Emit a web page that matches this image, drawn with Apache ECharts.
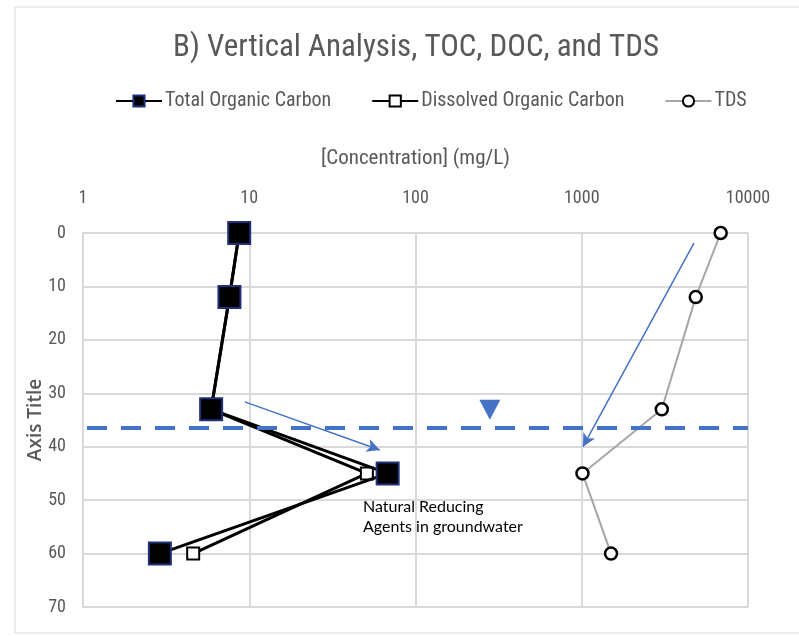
<!DOCTYPE html>
<html>
<head>
<meta charset="utf-8">
<script src="https://cdn.jsdelivr.net/npm/echarts@6/dist/echarts.min.js"></script>
<style>
html,body{margin:0;padding:0;background:#fff;}
#chart{width:799px;height:636px;}
</style>
</head>
<body>
<div id="chart"></div>
<script>
// ---- data ----
const depths = [0, 12, 33, 45, 60];
const tocValues = [8.7, 7.6, 5.9, 68, 2.9];
const docValues = [8.7, 7.6, 5.9, 51, 4.6];
const tdsValues = [6850, 4850, 3030, 1010, 1500];
const seriesNames = ['Total Organic Carbon', 'Dissolved Organic Carbon', 'TDS'];
const xTickValues = [1, 10, 100, 1000, 10000];
const yTickValues = [0, 10, 20, 30, 40, 50, 60, 70];
const waterTableDepth = 36.5;
const waterTableMarker = [280, 33.1];
const arrowToc = [[9.4, 31.6], [61, 40.6]];
const arrowTds = [[4730, 1.9], [1017, 40.0]];
const annotationText = 'Natural Reducing\nAgents in groundwater';

const FONT = "'Liberation Sans Narrow', 'Roboto Condensed', 'DejaVu Sans Condensed', sans-serif";
const GRAY = '#595959';
const BLUE = '#4472C4';

const pairs = (vals) => vals.map((v, i) => [v, depths[i]]);

const chart = echarts.init(document.getElementById('chart'), null, {renderer: 'canvas'});
const option = {
  animation: false,
  backgroundColor: '#fff',
  title: {
    text: 'B) Vertical Analysis, TOC, DOC, and TDS',
    left: 411, textAlign: 'center', top: 28,
    textStyle: {fontFamily: FONT, fontSize: 31, fontWeight: 'normal', color: GRAY}
  },
  legend: {
    data: seriesNames,
    left: 110, top: 86,
    itemWidth: 46, itemHeight: 14, itemGap: 40,
    textStyle: {fontFamily: FONT, fontSize: 20, color: GRAY, padding: [0,0,0,-2]}
  },
  grid: {left: 83, right: 51, top: 233, bottom: 29, containLabel: false},
  xAxis: {
    type: 'log', logBase: 10, min: xTickValues[0], max: xTickValues[xTickValues.length - 1],
    position: 'top',
    name: '[Concentration] (mg/L)', nameLocation: 'middle', nameGap: 64,
    nameTextStyle: {fontFamily: FONT, fontSize: 21, color: GRAY},
    axisLine: {show: false}, axisTick: {show: false},
    axisLabel: {fontFamily: FONT, fontSize: 18, color: GRAY, margin: 26, formatter: v => String(Math.round(v))},
    splitLine: {show: true, lineStyle: {color: '#d9d9d9', width: 2}}
  },
  yAxis: {
    type: 'value', inverse: true, min: yTickValues[0], max: yTickValues[yTickValues.length - 1], interval: 10,
    name: 'Axis Title', nameLocation: 'middle', nameRotate: 90, nameGap: 38, nameMoveOverlap: false,
    nameTextStyle: {fontFamily: "'Open Sans', sans-serif", fontSize: 19, fontWeight: 600, color: GRAY},
    axisLine: {show: true, lineStyle: {color: '#d9d9d9', width: 2}}, axisTick: {show: false},
    axisLabel: {fontFamily: FONT, fontSize: 18, color: GRAY, margin: 17},
    splitLine: {show: true, lineStyle: {color: '#d9d9d9', width: 2}}
  },
  series: [
    {
      name: seriesNames[0], type: 'line', z: 4, data: pairs(tocValues),
      symbol: 'rect', symbolSize: 22,
      lineStyle: {color: '#000', width: 3},
      itemStyle: {color: '#000', borderColor: '#22307a', borderWidth: 2},
      markLine: {
        silent: true, symbol: ['none', 'arrow'], symbolSize: [10, 13],
        lineStyle: {color: BLUE, width: 1.5, type: 'solid'}, label: {show: false},
        data: [
          [{coord: arrowToc[0]}, {coord: arrowToc[1]}],
          [{coord: arrowTds[0]}, {coord: arrowTds[1]}]
        ]
      }
    },
    {
      name: seriesNames[1], type: 'line', z: 3, data: pairs(docValues),
      symbol: 'rect', symbolSize: 12,
      lineStyle: {color: '#000', width: 3},
      itemStyle: {color: '#fff', borderColor: '#000', borderWidth: 2}
    },
    {
      name: seriesNames[2], type: 'line', z: 3, data: pairs(tdsValues),
      symbol: 'circle', symbolSize: 12,
      lineStyle: {color: '#a6a6a6', width: 2},
      itemStyle: {color: '#fff', borderColor: '#000', borderWidth: 2.5},
      markLine: {
        silent: true, symbol: ['none', 'none'],
        lineStyle: {color: BLUE, width: 4, type: [20, 14], dashOffset: -4}, label: {show: false},
        data: [{yAxis: waterTableDepth}]
      },
      markPoint: {
        silent: true,
        data: [{coord: waterTableMarker, symbol: 'triangle', symbolRotate: 180, symbolSize: [21, 20],
          itemStyle: {color: BLUE}, label: {show: false}}]
      }
    }
  ],
  graphic: [
    {type: 'rect', shape: {x: 15, y: 7, width: 800, height: 626}, style: {fill: 'none', stroke: '#d9d9d9', lineWidth: 1}, silent: true, z: -10},
    {type: 'text', left: 363, top: 497, style: {text: annotationText, font: "16px 'Lato', sans-serif", fill: '#000', lineHeight: 20}}
  ]
};
chart.setOption(option);
</script>
</body>
</html>
